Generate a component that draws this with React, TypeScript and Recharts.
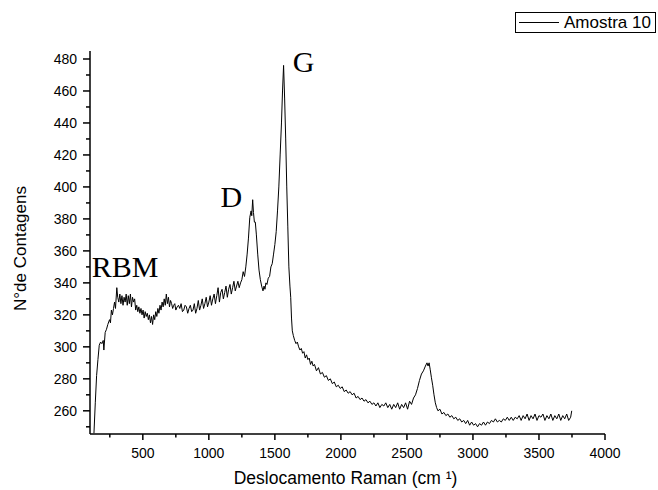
import React from "react";
import { LineChart, Line, XAxis, YAxis, Legend, ReferenceDot } from "recharts";

// Raman shift (cm-1) and counts
const ramanShift = [
  130, 140, 150, 160, 170, 180, 190, 200, 205, 215, 225, 235, 248, 255, 262, 270, 278, 286, 293, 303, 310,
  318, 326, 334, 342, 350, 358, 366, 374, 382, 390, 398, 406, 414, 422, 430, 438, 446, 454, 462, 470, 478,
  486, 494, 502, 510, 518, 526, 534, 542, 550, 558, 566, 574, 582, 590, 598, 606, 614, 622, 630, 638, 646,
  654, 662, 670, 678, 686, 694, 702, 710, 718, 726, 734, 742, 750, 760, 770, 780, 790, 800, 810, 820, 830,
  840, 850, 860, 870, 880, 890, 900, 910, 920, 930, 940, 950, 960, 970, 980, 990, 1000, 1010, 1020, 1030,
  1040, 1050, 1060, 1070, 1080, 1090, 1100, 1110, 1120, 1130, 1140, 1150, 1160, 1170, 1180, 1190, 1200,
  1210, 1220, 1230, 1240, 1250, 1260, 1270, 1280, 1290, 1300, 1310, 1320, 1325, 1332, 1338, 1345, 1352,
  1360, 1370, 1380, 1390, 1400, 1410, 1418, 1425, 1432, 1440, 1450, 1460, 1470, 1480, 1490, 1500, 1510,
  1520, 1530, 1540, 1550, 1558, 1566, 1574, 1582, 1590, 1598, 1606, 1614, 1620, 1626, 1632, 1640, 1650,
  1660, 1670, 1680, 1690, 1700, 1710, 1720, 1730, 1740, 1750, 1760, 1770, 1780, 1790, 1800, 1815, 1830,
  1845, 1860, 1875, 1890, 1905, 1920, 1935, 1950, 1965, 1980, 1995, 2010, 2025, 2040, 2055, 2070, 2085,
  2100, 2115, 2130, 2145, 2160, 2175, 2190, 2205, 2220, 2235, 2250, 2265, 2280, 2295, 2310, 2325, 2340,
  2355, 2370, 2385, 2400, 2415, 2430, 2445, 2460, 2475, 2490, 2505, 2520, 2535, 2550, 2565, 2580, 2595,
  2610, 2625, 2640, 2652, 2660, 2668, 2676, 2685, 2695, 2705, 2715, 2725, 2735, 2750, 2765, 2780, 2795,
  2810, 2825, 2840, 2855, 2870, 2885, 2900, 2915, 2930, 2945, 2960, 2975, 2990, 3005, 3020, 3035, 3050,
  3065, 3080, 3095, 3110, 3125, 3140, 3155, 3170, 3185, 3200, 3215, 3230, 3245, 3260, 3275, 3290, 3305,
  3320, 3335, 3350, 3365, 3380, 3395, 3410, 3425, 3440, 3455, 3470, 3485, 3500, 3515, 3530, 3545, 3560,
  3575, 3590, 3605, 3620, 3635, 3650, 3665, 3680, 3695, 3710, 3725, 3740, 3748,
];

const counts = [
  246, 265, 282, 292, 301, 303, 302, 304, 298, 309, 311, 314, 317, 315, 323, 320, 324, 328, 324, 337, 331,
  328, 333, 327, 332, 326, 331, 328, 333, 326, 332, 327, 333, 325, 331, 328, 330, 323, 326, 322, 325, 321,
  324, 320, 323, 318, 322, 319, 321, 317, 320, 315, 319, 314, 320, 317, 322, 319, 324, 321, 326, 323, 328,
  325, 330, 326, 333, 327, 331, 325, 329, 327, 324, 326, 327, 323, 325, 326, 324, 327, 322, 323, 326, 325,
  321, 324, 326, 322, 323, 327, 321, 324, 329, 323, 326, 330, 324, 327, 331, 325, 328, 332, 326, 330,
  333, 327, 332, 337, 328, 334, 336, 330, 334, 338, 331, 336, 339, 333, 337, 341, 335,
  338, 341, 337, 340, 342, 347, 344, 350, 358, 368, 381, 385, 382, 392, 384, 378, 378,
  370, 358, 348, 342, 338, 335, 338, 336, 340, 339, 343, 344, 350, 352, 358, 364, 372,
  385, 400, 420, 440, 460, 476, 455, 430, 400, 375, 350, 338, 331, 318, 310, 307, 304,
  302, 303, 300, 298, 299, 296, 297, 293, 295, 292, 293, 289, 291, 288, 289, 285, 287,
  283, 284, 281, 282, 279, 280, 277, 278, 275, 276, 274, 275, 272, 273, 271, 272, 270,
  271, 268, 269, 267, 268, 266, 267, 265, 266, 264, 265, 263, 265, 262, 264, 263, 265,
  262, 264, 261, 264, 262, 265, 261, 264, 262, 265, 261, 266, 264, 268, 270, 274, 279,
  283, 285, 288, 290, 288, 290, 286, 281, 276, 270, 265, 262, 260, 261, 258, 259, 257,
  258, 256, 257, 255, 256, 254, 255, 253, 254, 252, 254, 251, 253, 251, 252, 250, 252,
  251, 253, 251, 253, 252, 254, 253, 255, 253, 254, 253, 255, 254, 256, 254, 256, 254,
  256, 255, 257, 254, 257, 255, 258, 254, 257, 255, 258, 254, 257, 256, 258, 254, 257,
  255, 258, 254, 257, 255, 258, 254, 257, 255, 258, 254, 256, 260,
];

const xTicks = [250, 500, 750, 1000, 1250, 1500, 1750, 2000, 2250, 2500, 2750, 3000, 3250, 3500, 3750, 4000];
const yTicks = [
  250, 260, 270, 280, 290, 300, 310, 320, 330, 340, 350, 360, 370, 380, 390, 400, 410, 420, 430, 440, 450,
  460, 470, 480,
];

// peak labels: [text, shift, counts] at the text's baseline-left corner
const peakLabels: Array<[string, number, number]> = [
  ["RBM", 113, 343.5],
  ["D", 1088, 387.5],
  ["G", 1636, 472],
];

const data = ramanShift.map((x, i) => ({ shift: x, count: counts[i] }));

function XTick({ x, y, payload }: any) {
  const major = payload.value % 500 === 0;
  return (
    <g>
      <line x1={x} x2={x} y1={y} y2={y + (major ? 6 : 3.5)} stroke="#000" strokeWidth={1.5} />
      {major && (
        <text x={x} y={y + 24} textAnchor="middle" fontSize={14} fill="#000">
          {payload.value}
        </text>
      )}
    </g>
  );
}

function YTick({ x, y, payload }: any) {
  const major = payload.value % 20 === 0;
  return (
    <g>
      <line x1={x} x2={x - (major ? 7 : 4)} y1={y} y2={y} stroke="#000" strokeWidth={1.5} />
      {major && (
        <text x={x - 13} y={y + 5} textAnchor="end" fontSize={14} fill="#000">
          {payload.value}
        </text>
      )}
    </g>
  );
}

function LegendBox() {
  return (
    <div style={{ width: 141, height: 21, border: "1px solid #000", display: "flex", alignItems: "center", boxSizing: "border-box" }}>
      <div style={{ width: 40, height: 1, background: "#000", marginLeft: 3, marginRight: 5 }} />
      <span style={{ fontSize: 17, color: "#000", lineHeight: "20px" }}>Amostra 10</span>
    </div>
  );
}

export default function App() {
  return (
    <div style={{ position: "absolute", left: 0, top: 0, width: 658, height: 490, background: "#fff" }}>
      <LineChart
        width={658}
        height={490}
        data={data}
        margin={{ top: 51, right: 53, bottom: 0, left: 0 }}
        style={{ fontFamily: "'Liberation Sans', Arial, sans-serif" }}
      >
        <XAxis
          dataKey="shift"
          type="number"
          domain={[100, 4000]}
          allowDataOverflow
          ticks={xTicks}
          interval={0}
          tickSize={0}
          tickMargin={0}
          tickLine={false}
          height={56}
          axisLine={{ stroke: "#000", strokeWidth: 1.5 }}
          tick={<XTick />}
          label={(p: any) => (
            <text
              x={p.viewBox.x + p.viewBox.width / 2 - 2}
              y={p.viewBox.y + 44}
              textAnchor="middle"
              dominantBaseline="central"
              fontSize={17.5}
              fill="#000"
            >
              Deslocamento Raman (cm ¹)
            </text>
          )}
        />
        <YAxis
          type="number"
          domain={[245.5, 485]}
          allowDataOverflow
          ticks={yTicks}
          interval={0}
          tickSize={0}
          tickMargin={0}
          tickLine={false}
          width={90}
          axisLine={{ stroke: "#000", strokeWidth: 1.5 }}
          tick={<YTick />}
          label={(p: any) => {
            const cx = p.viewBox.x + 20;
            const cy = p.viewBox.y + p.viewBox.height / 2 + 6;
            return (
              <text
                x={cx}
                y={cy}
                transform={`rotate(-90 ${cx} ${cy})`}
                textAnchor="middle"
                dominantBaseline="central"
                fontSize={17}
                fill="#000"
              >
                N°de Contagens
              </text>
            );
          }}
        />
        <Legend
          layout="horizontal"
          verticalAlign="middle"
          align="center"
          wrapperStyle={{ left: 515, top: 12, width: 142, height: 22 }}
          content={() => <LegendBox />}
        />
        <Line
          type="linear"
          dataKey="count"
          name="Amostra 10"
          stroke="#000"
          strokeWidth={1}
          dot={false}
          activeDot={false}
          isAnimationActive={false}
        />
        {peakLabels.map(([label, x, y]) => (
          <ReferenceDot
            key={label}
            x={x}
            y={y}
            r={0}
            ifOverflow="visible"
            shape={(p: any) => (
              <text x={p.cx} y={p.cy} fontSize={30} fill="#000" fontFamily="'Liberation Serif', 'Times New Roman', serif">
                {label}
              </text>
            )}
          />
        ))}
      </LineChart>
    </div>
  );
}
